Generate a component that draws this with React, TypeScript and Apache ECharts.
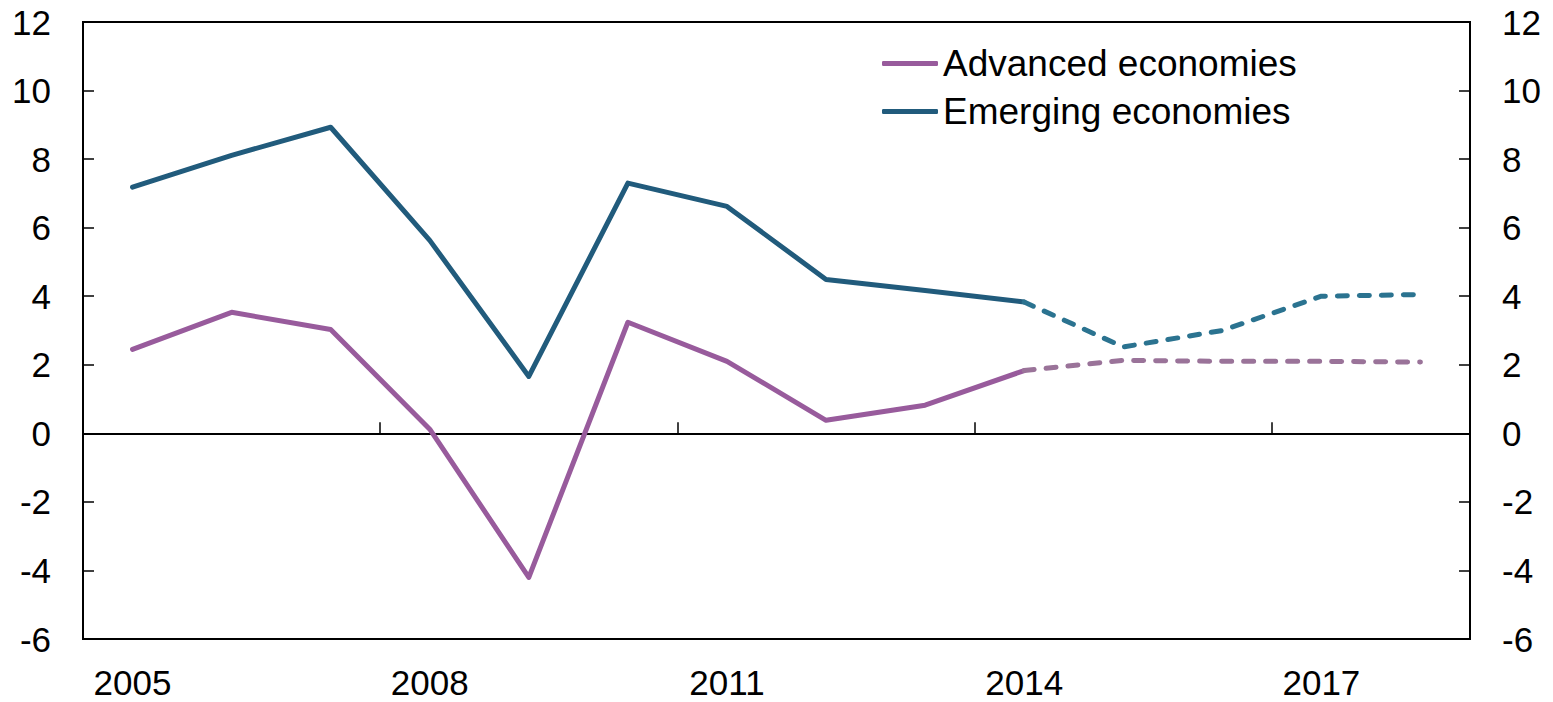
import React, { useEffect, useRef } from "react";
import * as echarts from "echarts";

const years = ["2005","2006","2007","2008","2009","2010","2011","2012","2013","2014","2015","2016","2017","2018"];
const advancedActual = [2.45, 3.53, 3.03, 0.12, -4.2, 3.24, 2.1, 0.38, 0.82, 1.83, null, null, null, null];
const advancedForecast = [null, null, null, null, null, null, null, null, null, 1.83, 2.13, 2.1, 2.1, 2.08];
const emergingActual = [7.18, 8.11, 8.93, 5.63, 1.66, 7.3, 6.62, 4.49, 4.17, 3.83, null, null, null, null];
const emergingForecast = [null, null, null, null, null, null, null, null, null, 3.83, 2.52, 3.0, 4.0, 4.05];
const yMin = -6;
const yMax = 12;
const yStep = 2;

const FONT = "'Liberation Sans', Arial, sans-serif";

export default function App() {
  const ref = useRef<HTMLDivElement>(null);
  useEffect(() => {
    document.body.style.margin = "0";
    if (!ref.current) return;
    const chart = echarts.init(ref.current, null, { renderer: "svg" });
    const yAxisCommon = {
      type: "value" as const,
      min: yMin,
      max: yMax,
      interval: yStep,
      splitLine: { show: false },
      axisLine: { show: true, lineStyle: { color: "#000", width: 2 } },
      axisTick: { show: true, inside: true, length: 11, lineStyle: { color: "#000", width: 1.5 } },
      axisLabel: { color: "#000", fontSize: 35, fontFamily: FONT, margin: 32 },
    };
    chart.setOption({
      animation: false,
      backgroundColor: "#fff",
      grid: {
        left: 83, right: 83, top: 22, bottom: 63,
        show: true, borderColor: "#000", borderWidth: 2, backgroundColor: "transparent",
      },
      legend: {
        data: ["Advanced economies", "Emerging economies"],
        orient: "vertical",
        left: 882,
        top: 45,
        padding: 0,
        icon: "roundRect",
        itemWidth: 56,
        itemHeight: 5,
        itemGap: 11,
        textStyle: { color: "#000", fontSize: 37, fontFamily: FONT, padding: [0, 0, 0, 0] },
        selectedMode: false,
      },
      xAxis: {
        type: "category",
        data: years,
        boundaryGap: true,
        axisLine: { show: true, lineStyle: { color: "#000", width: 2 } },
        axisTick: { show: true, inside: true, length: 11, interval: 2, lineStyle: { color: "#000", width: 1.5 } },
        axisLabel: { interval: 2, color: "#000", fontSize: 35, fontFamily: FONT, margin: 26 },
        splitLine: { show: false },
      },
      yAxis: [
        { ...yAxisCommon, position: "left" },
        { ...yAxisCommon, position: "right" },
      ],
      series: [
        {
          name: "Advanced economies",
          type: "line",
          data: advancedActual,
          symbol: "none",
          z: 3,
          lineStyle: { color: "#985B9C", width: 5, cap: "round", join: "round" },
          itemStyle: { color: "#985B9C" },
          markLine: {
            silent: true,
            symbol: "none",
            label: { show: false },
            lineStyle: { color: "#000", width: 1.5, type: "solid" },
            data: [{ yAxis: 0 }],
            z: 1,
          },
        },
        {
          name: "Advanced forecast",
          type: "line",
          data: advancedForecast,
          symbol: "none",
          z: 3,
          lineStyle: { color: "#9A7399", width: 5, type: [10, 12], cap: "round", join: "round" },
        },
        {
          name: "Emerging economies",
          type: "line",
          data: emergingActual,
          symbol: "none",
          z: 3,
          lineStyle: { color: "#215B7C", width: 5, cap: "round", join: "round" },
          itemStyle: { color: "#215B7C" },
        },
        {
          name: "Emerging forecast",
          type: "line",
          data: emergingForecast,
          symbol: "none",
          z: 3,
          lineStyle: { color: "#2B7390", width: 5, type: [10, 12], cap: "round", join: "round" },
        },
      ],
    });
    return () => chart.dispose();
  }, []);
  return <div ref={ref} style={{ width: 1553, height: 702 }} />;
}
